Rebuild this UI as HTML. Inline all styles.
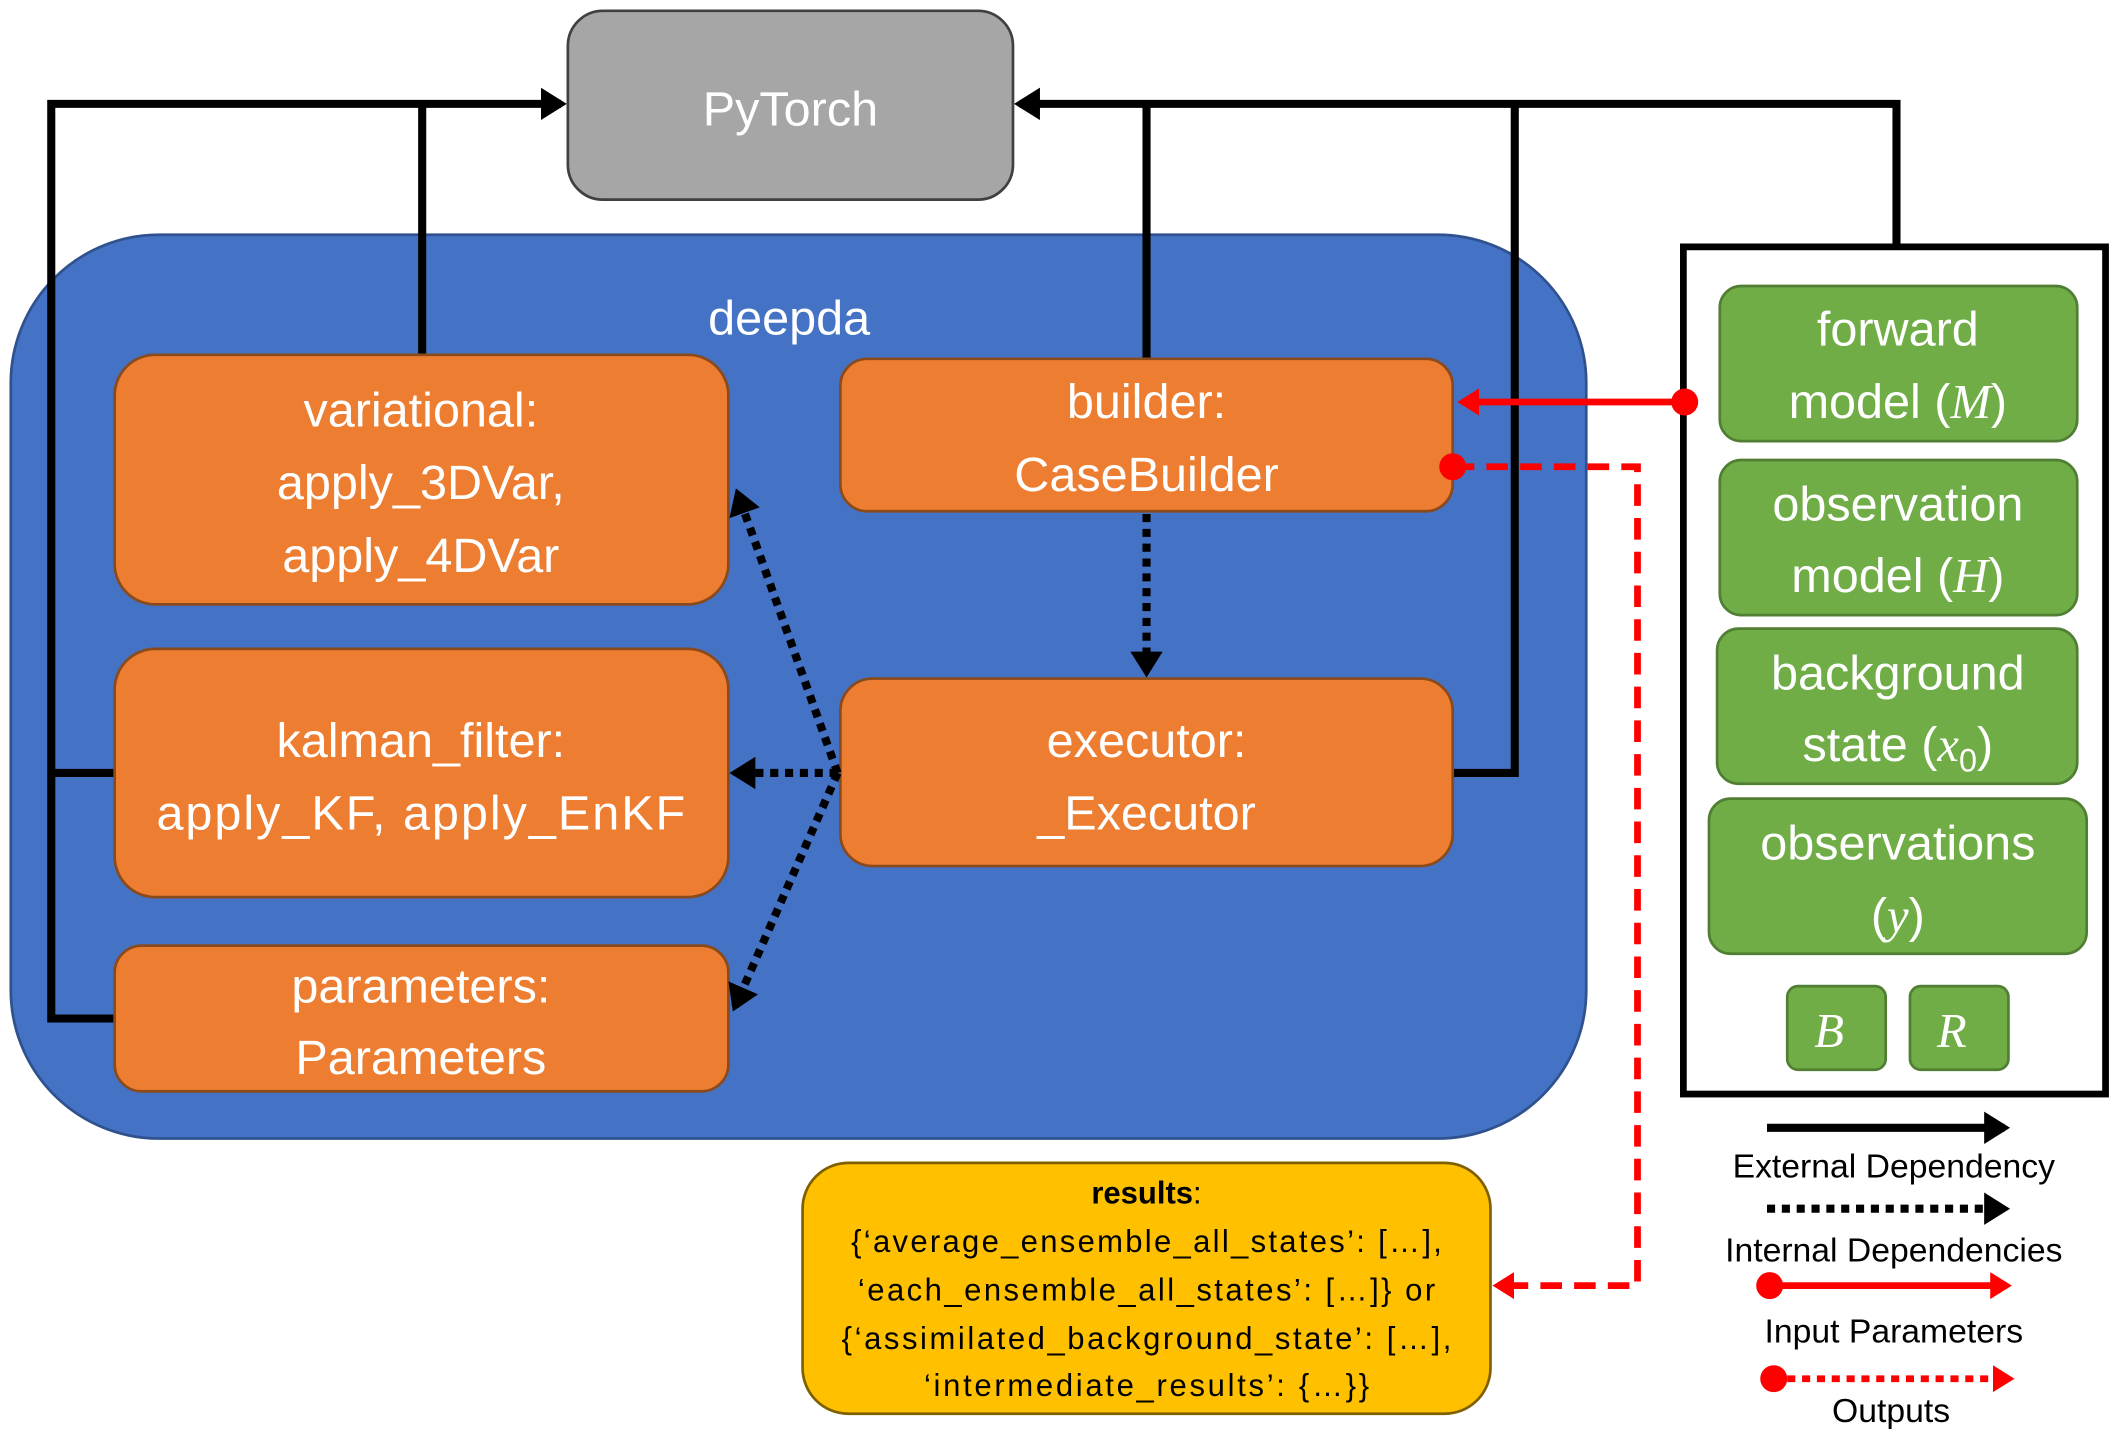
<!DOCTYPE html>
<html><head><meta charset="utf-8"><style>
html,body{margin:0;padding:0;background:#fff;}
svg{display:block;}
text{font-family:"Liberation Sans",sans-serif;}
.w{fill:#fff;font-size:36px;text-anchor:middle;}
.m{font-family:"Liberation Serif",serif;font-style:italic;}
.g{fill:#fff;font-size:36px;text-anchor:middle;}
.r{fill:#000;font-size:23px;text-anchor:middle;}
.l{fill:#000;font-size:25px;text-anchor:middle;}
</style></head><body>
<svg width="2115" height="1434" viewBox="0 0 1568 1063" preserveAspectRatio="none" xmlns="http://www.w3.org/2000/svg">
<defs>
<marker id="ab" markerWidth="4" markerHeight="4" refX="2.5" refY="2" orient="auto" markerUnits="strokeWidth"><path d="M0,0 L3.2,2 L0,4 Z" fill="#000"/></marker>
<marker id="ar" markerWidth="4" markerHeight="4" refX="2.5" refY="2" orient="auto" markerUnits="strokeWidth"><path d="M0,0 L3.2,2 L0,4 Z" fill="#f00"/></marker>
</defs>
<rect x="421" y="8" width="330" height="140" rx="26" fill="#a6a6a6" stroke="#404040" stroke-width="2"/>
<text x="586" y="93" class="w" font-size="38">PyTorch</text>
<rect x="8" y="174" width="1168" height="670" rx="110" fill="#4472c4" stroke="#2f528f" stroke-width="2"/>
<text x="585" y="248" class="w">deepda</text>
<g stroke="#000" stroke-width="6" fill="none">
<path d="M85,755 H38 V77 H416" marker-end="url(#ab)"/>
<path d="M38,573 H85"/>
<path d="M313,263 V77"/>
<path d="M1406,183 V77 H756" marker-end="url(#ab)"/>
<path d="M850,266 V77"/>
<path d="M1077,573 H1123 V77"/>
</g>
<g fill="#ed7d31" stroke="#8a4a1c" stroke-width="2">
<rect x="85" y="263" width="455" height="185" rx="30"/>
<rect x="85" y="481" width="455" height="184" rx="30"/>
<rect x="85" y="701" width="455" height="108" rx="20"/>
<rect x="623" y="266" width="454" height="113" rx="20"/>
<rect x="623" y="503" width="454" height="139" rx="24"/>
</g>
<text x="312" y="316" class="w">variational:</text>
<text x="312" y="370" class="w">apply_3DVar,</text>
<text x="312" y="424" class="w">apply_4DVar</text>
<text x="312" y="561" class="w">kalman_filter:</text>
<text x="312" y="615" class="w" textLength="392">apply_KF, apply_EnKF</text>
<text x="312" y="743" class="w">parameters:</text>
<text x="312" y="796" class="w">Parameters</text>
<text x="850" y="310" class="w">builder:</text>
<text x="850" y="364" class="w">CaseBuilder</text>
<text x="850" y="561" class="w">executor:</text>
<text x="850" y="615" class="w">_Executor</text>
<g stroke="#000" stroke-width="6" fill="none" stroke-dasharray="6,5">
<path d="M850,381 V498" marker-end="url(#ab)"/>
<path d="M621,573 L547,366" marker-end="url(#ab)"/>
<path d="M621,573 H545" marker-end="url(#ab)"/>
<path d="M621,573 L545,746" marker-end="url(#ab)"/>
</g>
<rect x="1248" y="183" width="313" height="628" fill="#fff" stroke="#000" stroke-width="5"/>
<g fill="#70ad47" stroke="#507e32" stroke-width="2">
<rect x="1275" y="212" width="265" height="115" rx="16"/>
<rect x="1275" y="341" width="265" height="115" rx="16"/>
<rect x="1273" y="466" width="267" height="115" rx="16"/>
<rect x="1267" y="592" width="280" height="115" rx="16"/>
<rect x="1325" y="731" width="73" height="62" rx="8"/>
<rect x="1416" y="731" width="73" height="62" rx="8"/>
</g>
<text x="1407" y="256" class="g">forward</text>
<text x="1407" y="310" class="g">model (<tspan class="m">M</tspan>)</text>
<text x="1407" y="386" class="g">observation</text>
<text x="1407" y="439" class="g">model (<tspan class="m">H</tspan>)</text>
<text x="1407" y="511" class="g">background</text>
<text x="1407" y="564" class="g">state (<tspan class="m">x</tspan><tspan font-size="24" dy="8">0</tspan><tspan dy="-8">)</tspan></text>
<text x="1407" y="637" class="g">observations</text>
<text x="1407" y="691" class="g">(<tspan class="m">y</tspan>)</text>
<text x="1356" y="776" class="g m">B</text>
<text x="1447" y="776" class="g m">R</text>
<circle cx="1249" cy="298" r="10" fill="#f00"/>
<path d="M1249,298 H1084" stroke="#f00" stroke-width="5" fill="none" marker-end="url(#ar)"/>
<circle cx="1077" cy="346" r="10" fill="#f00"/>
<path d="M1077,346 H1214 V953 H1110" stroke="#f00" stroke-width="5" fill="none" stroke-dasharray="16,9" marker-end="url(#ar)"/>
<rect x="595" y="862" width="510" height="186" rx="34" fill="#ffc000" stroke="#7f6000" stroke-width="2"/>
<text x="850" y="892" class="r"><tspan font-weight="bold">results</tspan>:</text>
<text x="850" y="928" class="r" textLength="438">{‘average_ensemble_all_states’: […],</text>
<text x="850" y="964" class="r" textLength="428">‘each_ensemble_all_states’: […]} or</text>
<text x="850" y="1000" class="r" textLength="452">{‘assimilated_background_state’: […],</text>
<text x="850" y="1035" class="r" textLength="330">‘intermediate_results’: {…}}</text>
<path d="M1310,836 H1486" stroke="#000" stroke-width="6" marker-end="url(#ab)"/>
<text x="1404" y="873" class="l">External Dependency</text>
<path d="M1310,896 H1486" stroke="#000" stroke-width="6" stroke-dasharray="6,5" marker-end="url(#ab)"/>
<text x="1404" y="935" class="l">Internal Dependencies</text>
<circle cx="1312" cy="953" r="10" fill="#f00"/>
<path d="M1312,953 H1488" stroke="#f00" stroke-width="5" marker-end="url(#ar)"/>
<text x="1404" y="995" class="l">Input Parameters</text>
<circle cx="1315" cy="1022" r="10" fill="#f00"/>
<path d="M1325,1022 H1490" stroke="#f00" stroke-width="5" stroke-dasharray="6,5" marker-end="url(#ar)"/>
<text x="1402" y="1054" class="l">Outputs</text>
</svg>
</body></html>
